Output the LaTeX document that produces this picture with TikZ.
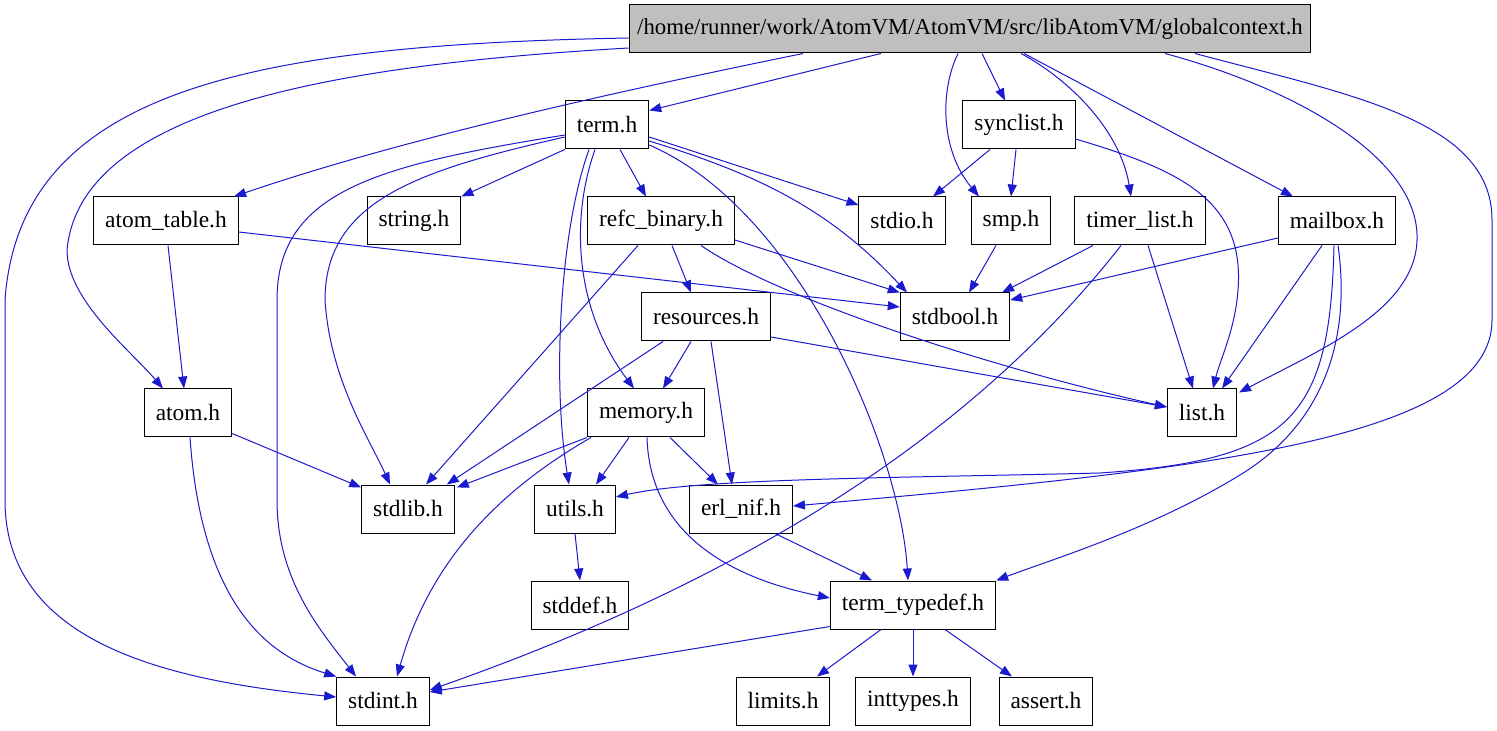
\documentclass[tikz,border=0pt]{standalone}
\usepackage{fontspec}
\setmainfont{Liberation Serif}
\usetikzlibrary{arrows.meta,calc}
\definecolor{depblue}{RGB}{26,26,206}
\definecolor{curgray}{RGB}{191,191,191}
\tikzset{
  hfile/.style={draw=black, fill=white, line width=0.5pt, minimum height=24pt,
                inner xsep=5.75pt, inner ysep=0pt, font={\fontsize{11.7}{14}\selectfont}},
  curfile/.style={hfile, fill=curgray, inner xsep=4pt, font={\fontsize{11.4}{14}\selectfont}},
  dep/.style={-{Triangle[length=6pt,width=4.5pt]}, depblue, line width=0.5pt},
}

\begin{document}
\begin{tikzpicture}[x=0.5pt, y=-0.5pt]
  \path[use as bounding box, fill=white] (0,0) rectangle (1497,731);
  % header files
  \node[curfile] (gc) at (970,29) {/home/runner/work/AtomVM/AtomVM/src/libAtomVM/globalcontext.h};
  \node[hfile] (term) at (607,125) {term.h};
  \node[hfile] (synclist) at (1019,125) {synclist.h};
  \node[hfile] (atomtable) at (166,221) {atom\_table.h};
  \node[hfile] (string) at (414,221) {string.h};
  \node[hfile] (refc) at (661,221) {refc\_binary.h};
  \node[hfile] (stdio) at (902,221) {stdio.h};
  \node[hfile] (smp) at (1011,221) {smp.h};
  \node[hfile] (timerlist) at (1140,221) {timer\_list.h};
  \node[hfile] (mailbox) at (1337,221) {mailbox.h};
  \node[hfile] (resources) at (706,317) {resources.h};
  \node[hfile] (stdbool) at (955,317) {stdbool.h};
  \node[hfile] (atom) at (188,413) {atom.h};
  \node[hfile] (memory) at (646,413) {memory.h};
  \node[hfile] (list) at (1202,413) {list.h};
  \node[hfile] (stdlib) at (408,509) {stdlib.h};
  \node[hfile] (utils) at (575,509) {utils.h};
  \node[hfile] (erlnif) at (741,509) {erl\_nif.h};
  \node[hfile] (stddef) at (580,605) {stddef.h};
  \node[hfile] (termtd) at (913,605) {term\_typedef.h};
  \node[hfile] (stdint) at (383,701) {stdint.h};
  \node[hfile] (limits) at (783,701) {limits.h};
  \node[hfile] (inttypes) at (913,701) {inttypes.h};
  \node[hfile] (assert) at (1046,701) {assert.h};

  % globalcontext.h
  \draw[dep] ($(gc.west)+(0,9)$) .. controls (250,45) and (20,90) .. (5,300) -- (5,500)
        .. controls (5,640) and (160,680) .. ($(stdint.west)+(0,-4)$);
  \draw[dep] ($(gc.west)+(0,19)$) .. controls (330,65) and (80,110) .. (67,250)
        .. controls (67,300) and (130,350) .. ($(atom.north)+(-25,0)$);
  \draw[dep] ($(gc.south)+(-167,0)$) .. controls (600,95) and (400,140) .. ($(atomtable.north)+(68,0)$);
  \draw[dep] ($(gc.south)+(-89,0)$) -- ($(term.north east)+(0,10)$);
  \draw[dep] ($(gc.south)+(-12,0)$) .. controls (940,90) and (940,150) .. ($(smp.north)+(-32,0)$);
  \draw[dep] ($(gc.south)+(12,0)$) -- ($(synclist.north)+(-14,0)$);
  \draw[dep] ($(gc.south)+(51,0)$) .. controls (1070,80) and (1120,130) .. ($(timerlist.north)+(-9,0)$);
  \draw[dep] ($(gc.south)+(54,0)$) -- ($(mailbox.north)+(-44,0)$);
  \draw[dep] ($(gc.south)+(195,0)$) .. controls (1300,90) and (1420,160) .. (1417,240)
        .. controls (1415,310) and (1320,350) .. ($(list.north east)+(2,4)$);
  \draw[dep] ($(gc.south)+(225,0)$) .. controls (1350,95) and (1492,120) .. (1492,220) -- (1492,320)
        .. controls (1492,440) and (1200,470) .. ($(erlnif.east)+(0,-3)$);

  % term.h
  \draw[dep] (term.south west) -- (string.north east);
  \draw[dep] ($(term.south)+(13,0)$) -- ($(refc.north)+(-15,0)$);
  \draw[dep] ($(term.east)+(0,12)$) -- ($(stdio.west)+(0,-16)$);
  \draw[dep] ($(term.east)+(0,16)$) .. controls (760,175) and (830,210) .. ($(stdbool.north)+(-48,0)$);
  \draw[dep] ($(term.east)+(0,20)$) .. controls (800,210) and (900,450) .. ($(termtd.north)+(-5,0)$);
  \draw[dep] ($(term.west)+(0,12)$) .. controls (420,170) and (325,200) .. (325,300)
        .. controls (330,380) and (370,440) .. ($(stdlib.north)+(-18,0)$);
  \draw[dep] ($(term.west)+(0,10)$) .. controls (380,165) and (277,190) .. (277,300) -- (277,500)
        .. controls (277,580) and (320,630) .. ($(stdint.north)+(-27,0)$);
  \draw[dep] ($(term.south)+(-18,0)$) .. controls (560,230) and (552,380) .. ($(utils.north)+(-6,0)$);
  \draw[dep] ($(term.south)+(-12,0)$) .. controls (570,220) and (575,310) .. ($(memory.north)+(-12,0)$);

  % synclist.h, timer_list.h, smp.h
  \draw[dep] ($(synclist.south)+(-29,0)$) -- ($(stdio.north)+(31,0)$);
  \draw[dep] ($(synclist.south)+(-3,0)$) -- (smp.north);
  \draw[dep] ($(synclist.east)+(0,14)$) .. controls (1180,170) and (1245,200) .. (1238,290)
        .. controls (1235,330) and (1220,360) .. ($(list.north)+(11,0)$);
  \draw[dep] ($(timerlist.south)+(-47,0)$) -- ($(stdbool.north)+(47,0)$);
  \draw[dep] ($(timerlist.south)+(-19,0)$) .. controls (1000,400) and (800,560) .. ($(stdint.east)+(0,-11)$);
  \draw[dep] ($(timerlist.south)+(8,0)$) -- ($(list.north)+(-9,0)$);
  \draw[dep] ($(smp.south)+(-15,0)$) -- ($(stdbool.north)+(14,0)$);

  % mailbox.h
  \draw[dep] ($(mailbox.west)+(0,17)$) -- ($(stdbool.east)+(0,-17)$);
  \draw[dep] ($(mailbox.south)+(-15,0)$) -- ($(list.north)+(20,0)$);
  \draw[dep] ($(mailbox.south)+(-3,0)$) .. controls (1330,420) and (1290,460) .. (1100,473)
        .. controls (900,478) and (700,478) .. ($(utils.east)+(0,-12)$);
  \draw[dep] ($(mailbox.south)+(1,0)$) .. controls (1350,330) and (1330,420) .. (1240,475)
        .. controls (1150,530) and (1050,560) .. (termtd.north east);

  % refc_binary.h, resources.h
  \draw[dep] ($(refc.south)+(11,0)$) -- ($(resources.north)+(-15,0)$);
  \draw[dep] ($(refc.south)+(-23,0)$) -- ($(stdlib.north)+(18,0)$);
  \draw[dep] ($(refc.east)+(0,19)$) -- (stdbool.north west);
  \draw[dep] ($(refc.south)+(40,0)$) .. controls (780,300) and (1000,370) .. ($(list.west)+(0,-6)$);
  \draw[dep] ($(resources.south)+(-43,0)$) -- ($(stdlib.north east)+(-8,0)$);
  \draw[dep] ($(resources.south)+(-15,0)$) -- ($(memory.north)+(17,0)$);
  \draw[dep] ($(resources.south)+(5,0)$) -- ($(erlnif.north)+(-9,0)$);
  \draw[dep] ($(resources.east)+(0,20)$) -- ($(list.west)+(0,-6)$);

  % atom_table.h, atom.h
  \draw[dep] ($(atomtable.south)+(2,0)$) -- ($(atom.north)+(-4,0)$);
  \draw[dep] ($(atomtable.east)+(0,11)$) -- ($(stdbool.west)+(0,-10)$);
  \draw[dep] ($(atom.south east)+(0,-4)$) -- ($(stdlib.north west)+(0,3)$);
  \draw[dep] ($(atom.south)+(2,0)$) .. controls (200,580) and (250,650) .. (stdint.north west);

  % memory.h
  \draw[dep] (memory.south west) -- ($(stdlib.north east)+(2,3)$);
  \draw[dep] ($(memory.south west)+(4,0)$) .. controls (500,490) and (430,560) .. ($(stdint.north)+(14,0)$);
  \draw[dep] ($(memory.south)+(-17,0)$) -- ($(utils.north)+(21,0)$);
  \draw[dep] ($(memory.south)+(1,0)$) .. controls (650,540) and (740,580) .. ($(termtd.west)+(0,-7)$);
  \draw[dep] ($(memory.south)+(24,0)$) -- ($(erlnif.north)+(-23,0)$);

  % bottom rows
  \draw[dep] (utils.south) -- (stddef.north);
  \draw[dep] ($(erlnif.south)+(34,0)$) -- ($(termtd.north)+(-41,0)$);
  \draw[dep] ($(termtd.south west)+(0,-3)$) -- ($(stdint.east)+(0,-9)$);
  \draw[dep] ($(termtd.south)+(-32,0)$) -- ($(limits.north)+(34,0)$);
  \draw[dep] (termtd.south) -- (inttypes.north);
  \draw[dep] ($(termtd.south)+(32,0)$) -- ($(assert.north)+(-34,0)$);
\end{tikzpicture}
\end{document}
